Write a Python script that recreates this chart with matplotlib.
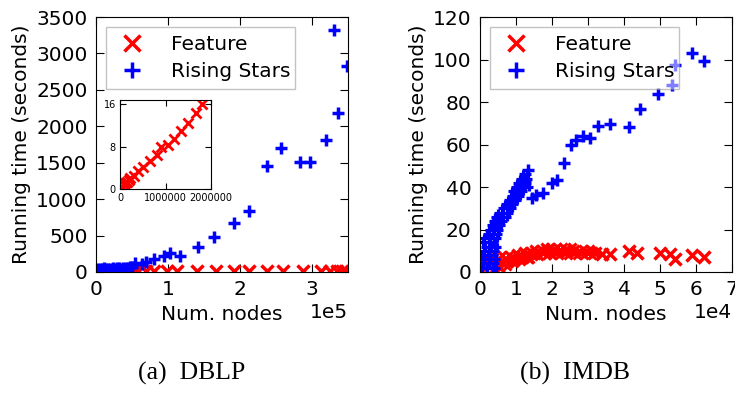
import matplotlib
matplotlib.use('Agg')
import matplotlib.pyplot as plt

# DBLP: running time vs. number of nodes
dblp_rs_x = [2000, 5000, 8000, 11000, 14000, 17000, 20000, 23000, 26000, 29000, 32000,
             35000, 38000, 41000, 44000, 47000,
             50000, 54000, 64000, 70000, 81000, 94000, 103000, 117000, 142000, 164000,
             191000, 213000, 237000, 257000, 284000, 297000, 320000, 330000, 336000, 349000]
dblp_rs_y = [40, 45, 38, 50, 42, 48, 40, 52, 45, 50, 55,
             48, 60, 52, 58, 62,
             69, 124, 115, 138, 183, 216, 261, 216, 344, 482,
             674, 839, 1459, 1697, 1505, 1505, 1812, 3325, 2180, 2821]
dblp_ft_x = [3000, 8000, 13000, 18000, 23000, 28000, 33000, 38000, 43000, 48000, 53000, 58000,
             70000, 80000, 98000, 112000, 140000, 166000, 191000, 212000, 237000, 260000,
             287000, 312000, 325000, 335000, 342000, 346000]
dblp_ft_y = [3, 4, 5, 4, 6, 5, 7, 6, 8, 7, 9, 8,
             10, 11, 12, 12, 13, 13, 14, 14, 14, 15,
             15, 16, 16, 16, 16, 16]

# inset: feature running time on larger graphs
inset_x = [20000, 40000, 80000, 110000, 150000, 190000, 230000, 300000, 400000, 510000,
           660000, 810000, 910000, 1060000, 1180000, 1340000, 1490000, 1660000, 1810000]
inset_y = [0.2, 0.44, 0.75, 1.1, 1.4, 1.7, 2.0, 2.5, 3.4, 4.2,
           5.3, 6.4, 8.0, 8.3, 9.4, 11.0, 12.4, 14.3, 16.0]

# IMDB: dense region (small graphs)
imdb_ft_dx = [300, 800, 1200, 1800, 2400, 3000,
              3500, 3500, 4000, 4000, 4500, 5000, 5500, 6000, 6000, 6500, 7000, 7500, 8000,
              8000, 8500, 9000, 9500, 10000, 10000, 10500, 11000, 11500, 12000, 12000, 12500,
              13000, 13500, 14000, 14000, 14500, 15000, 15500, 16000, 16500, 17000, 17500,
              18000, 18500, 19000, 19500, 20000, 20500, 21000, 21500, 22000, 22500, 23000,
              23500, 24000, 24500, 25000, 25500, 26000, 26500, 27000, 27500, 28000, 28500,
              29000, 29500, 30000, 30500, 31000, 31500, 32000, 32500]
imdb_ft_dy = [1, 4, 2, 6, 3, 5,
              1, 5, 7, 3, 3, 6, 2, 8, 5, 4, 6, 3, 8,
              4, 5, 7, 4, 9, 5, 6, 8, 5, 10, 6, 7,
              9, 6, 10, 6, 8, 11, 8, 10, 7.5, 11, 9,
              12, 8, 10, 12, 8, 11, 9, 12, 8, 10, 12,
              9, 11, 8, 10, 12, 9, 11, 8, 10, 9, 11,
              8, 10, 9, 11, 8, 10, 9, 10]
imdb_rs_dx = [500, 2000, 3500, 4500, 800, 2500, 4200, 1200, 2800, 4500, 600, 2200, 3800,
              1000, 2600, 4200, 1400, 3000, 4600, 800, 2400, 4000, 1200, 2800, 4600,
              2000, 3500, 5000, 2400, 4000, 5400, 3000, 4500, 5800, 3600, 5000, 6400,
              4200, 5800, 7400, 5000, 6500, 8000, 6000, 7500, 8800, 7000, 8300, 9400,
              7800, 9000, 10200, 8600, 9800, 11000, 9000, 10400, 11800, 9600, 11000, 12400,
              13600, 10200, 11600, 13000, 11000, 12400, 13400, 12000, 13000]
imdb_rs_dy = [2, 2, 2, 2, 4, 4, 4, 6, 6, 6, 8, 8, 8,
              10, 10, 10, 12, 12, 12, 14, 14, 14, 16, 16, 16,
              18, 18, 18, 20, 20, 20, 22, 22, 22, 24, 24, 24,
              26, 26, 26, 28, 28, 28, 30, 30, 30, 32, 32, 32,
              34, 34, 34, 36, 36, 36, 38, 38, 38, 40, 40, 40,
              40, 42, 42, 42, 44, 44, 44, 46, 46]

# IMDB: sparse region (large graphs)
imdb_ft_x = [33800, 36100, 41500, 43600, 50000, 52800, 54200, 58800, 62100]
imdb_ft_y = [8.6, 8.6, 9.9, 9.0, 9.0, 8.6, 6.3, 7.9, 7.1]
imdb_rs_x = [12500, 13400, 14400, 15600, 17400, 19900, 21300, 23200, 25200, 26700, 28700,
             30600, 32900, 36000, 41500, 44300, 49300, 53300, 54200, 58800, 62100]
imdb_rs_y = [43.2, 48, 34.6, 36.2, 37.3, 42, 43.2, 51.1, 59.7, 62.1, 64.0,
             62.9, 68.7, 69.7, 68.4, 76.6, 83.8, 88, 97.5, 103.3, 99.1]

plt.rcParams['font.family'] = 'DejaVu Sans'
plt.rcParams['font.size'] = 14.5

fig = plt.figure(figsize=(7.35, 3.99), dpi=100)
ax1 = fig.add_axes([0.1306, 0.3183, 0.3429, 0.639])
ax2 = fig.add_axes([0.6531, 0.3183, 0.3429, 0.639])

big = dict(linestyle='none', markersize=9, markeredgewidth=2.5)
small = dict(linestyle='none', markersize=6, markeredgewidth=2.3)


def style_axes(ax, length=6, size=14.5):
    ax.tick_params(direction='in', top=True, right=True, length=length, labelsize=size, pad=6)


# left panel
ax1.plot(dblp_ft_x, dblp_ft_y, 'x', color='red', label='Feature', **big)
ax1.plot(dblp_rs_x, dblp_rs_y, '+', color='blue', label='Rising Stars', **big)
ax1.set_xlim(0, 350000)
ax1.set_ylim(0, 3500)
ax1.set_yticks(range(0, 3501, 500))
ax1.ticklabel_format(axis='x', style='sci', scilimits=(0, 0))
ax1.set_xlabel('Num. nodes')
ax1.set_ylabel('Running time (seconds)')
style_axes(ax1)

# right panel
ax2.plot(imdb_ft_dx, imdb_ft_dy, 'x', color='red', **small)
ax2.plot(imdb_rs_dx, imdb_rs_dy, '+', color='blue', **small)
ax2.plot(imdb_ft_x, imdb_ft_y, 'x', color='red', label='Feature', **big)
ax2.plot(imdb_rs_x, imdb_rs_y, '+', color='blue', label='Rising Stars', **big)
ax2.set_xlim(0, 70000)
ax2.set_ylim(0, 120)
ax2.set_xticks(range(0, 70001, 10000))
ax2.set_yticks(range(0, 121, 20))
ax2.ticklabel_format(axis='x', style='sci', scilimits=(0, 0))
ax2.set_xlabel('Num. nodes')
ax2.set_ylabel('Running time (seconds)')
style_axes(ax2)

for ax in (ax1, ax2):
    leg = ax.legend(loc='upper left', bbox_to_anchor=(0.04, 0.706, 0.75, 0.255),
                    mode='expand', borderaxespad=0, fancybox=False, framealpha=0.5,
                    edgecolor='#888888', handlelength=1.8, handletextpad=1.0,
                    labelspacing=0.4, markerscale=1.25, numpoints=1, fontsize=14.5)
    leg.set_zorder(5)

# inset
axin = fig.add_axes([0.1633, 0.5263, 0.1238, 0.223])
axin.plot(inset_x, inset_y, 'x', color='red', linestyle='none', markersize=7.5, markeredgewidth=2)
axin.set_xlim(0, 2000000)
axin.set_ylim(0, 16.8)
axin.set_xticks([0, 1000000, 2000000])
axin.set_xticklabels(['0', '1000000', '2000000'])
axin.set_yticks([0, 8, 16])
axin.tick_params(direction='in', top=True, right=True, length=4, labelsize=7, pad=3)

fig.text(0.261, 0.065, '(a)  DBLP', ha='center', va='center',
         family='Liberation Serif', fontsize=18.5)
fig.text(0.782, 0.065, '(b)  IMDB', ha='center', va='center',
         family='Liberation Serif', fontsize=18.5)

fig.savefig('out.png', dpi=100)
